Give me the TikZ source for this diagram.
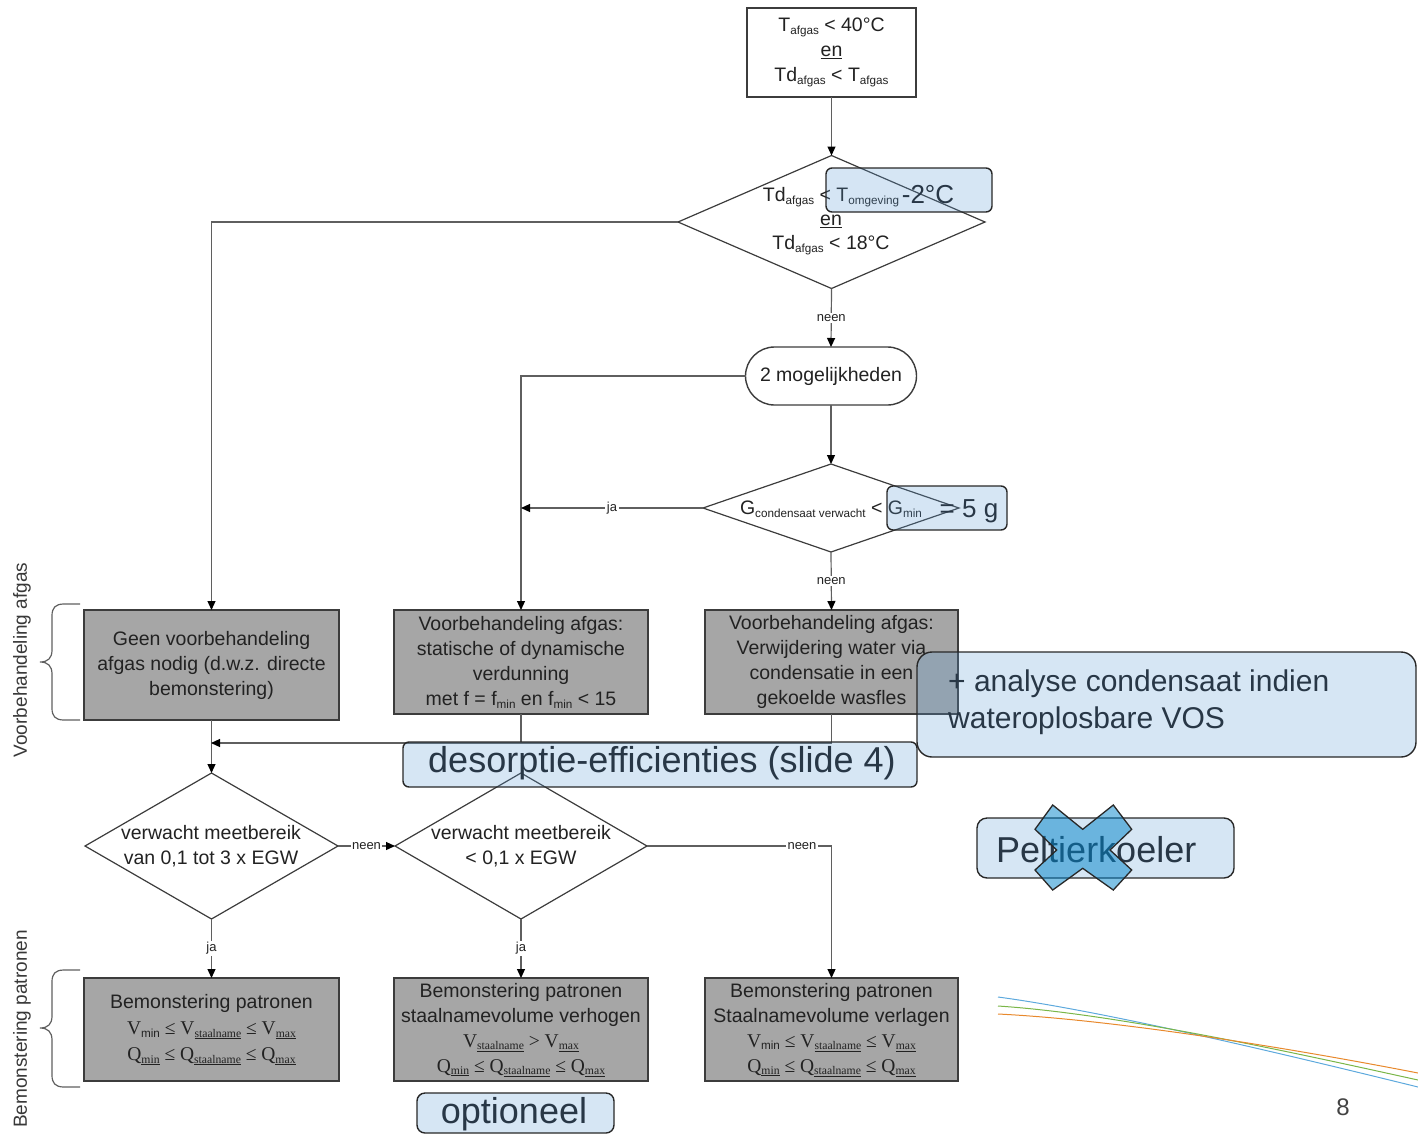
\documentclass[tikz,border=0pt]{standalone}
\usepackage{fontspec}
\setmainfont{Liberation Sans}
\newfontfamily\serifm{Liberation Serif}
\usetikzlibrary{shapes.geometric,arrows.meta}
\definecolor{boxgray}{RGB}{166,166,166}
\definecolor{boxborder}{RGB}{60,60,60}
\definecolor{linecol}{RGB}{95,95,95}
\definecolor{diagtext}{RGB}{34,34,34}
\definecolor{ovblue}{RGB}{91,155,213}
\definecolor{ovtext}{RGB}{40,55,70}
\definecolor{ovborder}{RGB}{40,40,40}
\definecolor{xblue}{RGB}{0,131,201}
\definecolor{decblue}{RGB}{93,169,221}
\definecolor{decgreen}{RGB}{122,182,72}
\definecolor{decorange}{RGB}{232,137,44}
\newcommand{\fsz}[2]{\fontsize{#1}{#2}\selectfont}
\newcommand{\lo}[1]{\raisebox{-0.3ex}{\scalebox{0.6}{#1}}}
\newcommand{\ulo}[1]{\raisebox{-0.3ex}{\scalebox{0.6}{\underline{#1}}}}
\newcommand{\slo}[1]{\raisebox{-0.3ex}{\scalebox{0.6}{\normalfont #1}}}
\tikzset{
  base/.style={text=diagtext, font=\fsz{19.5}{25}, align=center, inner sep=0pt, outer sep=0pt},
  graybox/.style={base, draw=boxborder, fill=boxgray, line width=1.4pt},
  whitebox/.style={base, draw=boxborder, fill=white, line width=1.4pt},
  dia/.style={draw=boxborder, shape=diamond, line width=1.2pt, inner sep=0pt, outer sep=0pt, fill=white},
  conn/.style={draw=linecol, line width=1.2pt},
  arr/.style={conn, -{Triangle[length=9pt,width=8pt,color=black]}},
  lbl/.style={fill=white, inner sep=1.5pt, font=\fsz{13}{13}, text=diagtext},
  ov/.style={draw=ovborder, fill=ovblue, fill opacity=0.25, draw opacity=1, line width=1.4pt, rounded corners=6pt, inner sep=0pt},
  ovt/.style={text=ovtext, inner sep=0pt},
  side/.style={text=diagtext!90, font=\fsz{19}{19}, rotate=90, inner sep=0pt},
  bracestyle/.style={draw=linecol, line width=1.2pt}
}
\begin{document}
\begin{tikzpicture}[x=1pt,y=-1pt]
\useasboundingbox (0,0) rectangle (1418,1135);

% top box and first diamond
\node[whitebox, minimum width=169pt, minimum height=89pt] (top) at (831.5,52.5)
  {T\lo{afgas} < 40°C\\\underline{en}\\Td\lo{afgas} < T\lo{afgas}};
\node[dia, minimum width=307pt, minimum height=133pt] (d1) at (831.5,222) {};
\node[base] (d1t) at (831,221) {Td\lo{afgas} < T\lo{omgeving}\\[-1pt]\underline{en}\\[-1pt]Td\lo{afgas} < 18°C};

\node[whitebox, minimum width=171pt, minimum height=58pt, rounded corners=29pt] (s) at (831,376) {2 mogelijkheden};

\node[dia, minimum width=256pt, minimum height=88pt] (d2) at (831,508) {};
\node[base] (d2t) at (831,509) {G\lo{condensaat verwacht} < G\lo{min}};

% first row of boxes
\node[graybox, minimum width=255pt, minimum height=110pt] (b1) at (211.5,665)
  {Geen voorbehandeling\\afgas nodig (d.w.z. directe\\bemonstering)};
\node[graybox, minimum width=254pt, minimum height=104pt] (b2) at (521,662)
  {Voorbehandeling afgas:\\statische of dynamische\\verdunning\\met f = f\lo{min} en f\lo{min} < 15};
\node[graybox, minimum width=253pt, minimum height=104pt] (b3) at (831.5,662)
  {Voorbehandeling afgas:\\Verwijdering water via\\condensatie in een\\gekoelde wasfles};

\coordinate (j1) at (211,743);

% second row of diamonds
\node[dia, minimum width=253pt, minimum height=146pt] (d3) at (211.5,846) {};
\node[base] (d3t) at (211,846) {verwacht meetbereik\\van 0,1 tot 3 x EGW};
\node[dia, minimum width=252pt, minimum height=146pt] (d4) at (521,846) {};
\node[base] (d4t) at (521,846) {verwacht meetbereik\\< 0,1 x EGW};

% bottom row boxes
\node[graybox, minimum width=255pt, minimum height=103pt] (b4) at (211.5,1029.5)
  {Bemonstering patronen\\[1pt]{\serifm V\slo{min} ≤ V\ulo{staalname} ≤ V\ulo{max}}\\[1pt]{\serifm Q\ulo{min} ≤ Q\ulo{staalname} ≤ Q\ulo{max}}};
\node[graybox, minimum width=254pt, minimum height=103pt] (b5) at (521,1029.5)
  {Bemonstering patronen\\staalnamevolume verhogen\\{\serifm V\ulo{staalname} > V\ulo{max}}\\{\serifm Q\ulo{min} ≤ Q\ulo{staalname} ≤ Q\ulo{max}}};
\node[graybox, minimum width=253pt, minimum height=103pt] (b6) at (831.5,1029.5)
  {Bemonstering patronen\\Staalnamevolume verlagen\\{\serifm V\slo{min} ≤ V\ulo{staalname} ≤ V\ulo{max}}\\{\serifm Q\ulo{min} ≤ Q\ulo{staalname} ≤ Q\ulo{max}}};

% connectors
\draw[arr] (top) -- (d1);
\draw[arr] (d1.west) -| (b1.north);
\draw[arr] (d1.south) -- node[lbl] (l1) {neen} (s.north);
\draw[arr] (s.west) -| (b2.north);
\draw[arr] (s.south) -- (d2.north);
\coordinate (c2) at (d2.west -| b2.north);
\draw[arr] (d2.west) -- node[lbl] (l2) {ja} (c2);
\draw[arr] (d2.south) -- node[lbl] (l3) {neen} (b3.north);
\draw[arr] (b1.south) -- (d3.north);
\draw[conn] (b2.south) -- (b2.south |- j1);
\draw[arr] (b3.south) |- (j1);
\draw[arr] (d3.east) -- node[lbl] (l4) {neen} (d4.west);
\draw[arr] (d3.south) -- node[lbl] (l5) {ja} (b4.north);
\draw[arr] (d4.south) -- node[lbl] (l6) {ja} (b5.north);
\coordinate (c6) at (d4.east -| b6.north);
\draw[arr] (d4.east) -- node[lbl, pos=0.84] (l7) {neen} (c6) -- (b6.north);

% braces and side labels
\draw[bracestyle] (80,604) -- (64,604) .. controls (55,604) and (52,608) .. (52,616) -- (52,650)
  .. controls (52,658) and (48,662) .. (40,662) .. controls (48,662) and (52,666) .. (52,674)
  -- (52,708) .. controls (52,716) and (55,720) .. (64,720) -- (80,720);
\draw[bracestyle] (80,970) -- (64,970) .. controls (55,970) and (52,974) .. (52,982) -- (52,1016)
  .. controls (52,1024) and (48,1028) .. (40,1028) .. controls (48,1028) and (52,1032) .. (52,1040)
  -- (52,1075) .. controls (52,1083) and (55,1087) .. (64,1087) -- (80,1087);
\node[side] (sl1) at (22,660) {Voorbehandeling afgas};
\node[side] (sl2) at (22,1029) {Bemonstering patronen};

% decorative lines
\draw[decblue, line width=1pt] (998,997) .. controls (1110,1012) and (1300,1058) .. (1418,1087);
\draw[decgreen, line width=1pt] (998,1006) .. controls (1120,1014) and (1300,1054) .. (1418,1080);
\draw[decorange, line width=1pt] (998,1014) .. controls (1120,1020) and (1300,1050) .. (1418,1073);
\node[text=diagtext!85, inner sep=0pt] (pg) at (1343,1107) {\fsz{24}{24}8};

% overlay annotations
\node[ov, minimum width=166pt, minimum height=44pt] (o1) at (909,190) {};
\node[ovt, font=\fsz{26}{26}] (o1t) at (928,195) {-2°C};
\node[ov, minimum width=120pt, minimum height=44pt] (o2) at (947,508) {};
\node[ovt, font=\fsz{26}{26}] (o2t) at (969,511) {= 5 g};
\node[ov, minimum width=499pt, minimum height=105pt, rounded corners=15pt] (o3) at (1166.5,704.5) {};
\node[ovt, font=\fsz{30}{37}, align=left, anchor=west] (o3t) at (948,702) {+ analyse condensaat indien\\wateroplosbare VOS};
\node[ov, minimum width=514pt, minimum height=45pt] (o4) at (660,764.5) {};
\node[ovt, font=\fsz{36}{36}] (o4t) at (662,763) {desorptie-efficienties (slide 4)};
\node[ov, minimum width=257pt, minimum height=60pt, rounded corners=10pt] (o5) at (1105.5,848) {};
\node[ovt, font=\fsz{36}{36}, anchor=west] (o5t) at (996,850) {Peltierkoeler};
\node[ov, minimum width=197pt, minimum height=40pt, rounded corners=8pt] (o6) at (515.5,1113) {};
\node[ovt, font=\fsz{36}{36}] (o6t) at (514,1114) {optioneel};
\draw[draw=ovborder, line width=1.3pt, fill=xblue, fill opacity=0.5, line join=miter]
  (1052.7,805) -- (1082.7,829.3) -- (1113.3,805) -- (1131.7,829.3) -- (1110,850) -- (1131.7,870)
  -- (1113.3,890) -- (1082.7,868.3) -- (1052.7,890) -- (1035,870) -- (1056.7,850) -- (1035,829.3) -- cycle;
\end{tikzpicture}
\end{document}
